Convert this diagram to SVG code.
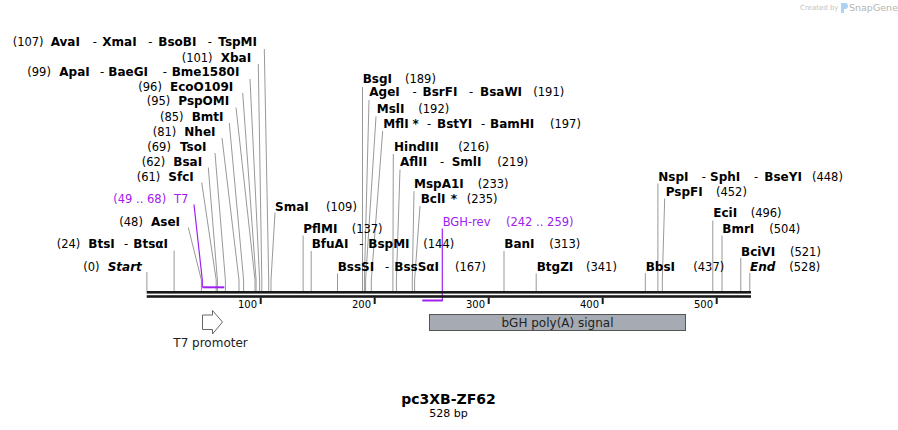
<svg xmlns="http://www.w3.org/2000/svg" width="898" height="430" viewBox="0 0 898 430">
<style>
text{font-family:"DejaVu Sans",Verdana,sans-serif;fill:#000}
.n{font-size:11.5px}
.b{font-size:12px;font-weight:bold}
.bi{font-size:12px;font-weight:bold;font-style:italic}
.p{fill:#a020f0;font-size:11.5px}
.t{font-size:10px;text-anchor:end}
.c{stroke:#999;fill:none;stroke-width:1}
.pc{stroke:#a020f0;fill:none;stroke-width:1.2}
.tick{stroke:#1a1a1a;stroke-width:2}
</style>
<rect width="898" height="430" fill="#fff"/>
<g id="watermark">
<text x="800" y="10" style="font-size:7px;fill:#c4c4c4">Created by</text>
<path d="M841,3 h4 a3,3 0 0 1 0,6 h-1 v4 h-3 z" fill="#a9d4f5"/>
<text x="849" y="11" style="font-size:9.5px;fill:#b5b5b5">SnapGene</text>
</g>
<g id="connectors">
<polyline class="c" points="264.3,49 268.7,280 268.7,291"/>
<polyline class="c" points="258.3,64 261.8,280 261.8,291"/>
<polyline class="c" points="250,79 259.6,280 259.6,291"/>
<polyline class="c" points="242.7,93 256.1,280 256.1,291"/>
<polyline class="c" points="236,107.5 255,280 255,291"/>
<polyline class="c" points="229.3,123 243.6,280 243.6,291"/>
<polyline class="c" points="222,138 239,280 239,291"/>
<polyline class="c" points="215,153 225.4,280 225.4,291"/>
<polyline class="c" points="208.3,167.5 217.4,280 217.4,291"/>
<polyline class="c" points="201.7,182.5 216.2,280 216.2,291"/>
<polyline class="c" points="188.3,227.5 201.4,280 201.4,291"/>
<polyline class="c" points="174.1,250.5 174.1,291"/>
<polyline class="c" points="146.9,272 146.9,291"/>
<polyline class="c" points="275,212.5 271,280 271,291"/>
<polyline class="c" points="362.5,87 362.5,291"/>
<polyline class="c" points="369,100 364.4,280 364.4,291"/>
<polyline class="c" points="376,116.5 365.6,280 365.6,291"/>
<polyline class="c" points="382.7,131 371.3,280 371.3,291"/>
<polyline class="c" points="393.3,154 392.9,280 392.9,291"/>
<polyline class="c" points="400,169.5 396.4,280 396.4,291"/>
<polyline class="c" points="414,191 412.3,280 412.3,291"/>
<polyline class="c" points="420,206 414.6,280 414.6,291"/>
<polyline class="c" points="303.1,235.5 303.1,291"/>
<polyline class="c" points="311.2,251 311.2,291"/>
<polyline class="c" points="337.5,273.5 337.5,291"/>
<polyline class="c" points="504,251 504,291"/>
<polyline class="c" points="536.2,273.5 536.2,291"/>
<polyline class="c" points="645.3,273 645.3,291"/>
<polyline class="c" points="657.9,183.5 657.9,291"/>
<polyline class="c" points="664.7,198.5 662.3,280 662.3,291"/>
<polyline class="c" points="712.8,220.5 712.8,291"/>
<polyline class="c" points="722,235.5 722,291"/>
<polyline class="c" points="740.8,258 740.8,291"/>
<polyline class="c" points="749.8,273 749.8,291"/>
<polyline class="pc" points="194,204.5 202.3,280 202.3,287"/>
<polyline class="pc" points="442.3,228.5 442.3,300.5"/>
</g>
<g id="backbone">
<rect x="146.7" y="291" width="604.3" height="2.6" fill="#1a1a1a"/>
<rect x="146.7" y="295.2" width="604.3" height="2.6" fill="#1a1a1a"/>
<line class="tick" x1="260.7" y1="297.5" x2="260.7" y2="304"/>
<line class="tick" x1="374.7" y1="297.5" x2="374.7" y2="304"/>
<line class="tick" x1="488.7" y1="297.5" x2="488.7" y2="304"/>
<line class="tick" x1="602.7" y1="297.5" x2="602.7" y2="304"/>
<line class="tick" x1="716.7" y1="297.5" x2="716.7" y2="304"/>
<text class="t" x="257" y="307.5">100</text>
<text class="t" x="371" y="307.5">200</text>
<text class="t" x="485" y="307.5">300</text>
<text class="t" x="599" y="307.5">400</text>
<text class="t" x="713" y="307.5">500</text>
</g>
<g id="T7">
<rect x="202.3" y="286.3" width="22" height="2" fill="#a020f0"/>
<text class="p" x="113.3" y="203.3">(49 .. 68)</text>
<text class="p" x="174" y="203.3">T7</text>
</g>
<g id="BGH-rev">
<rect x="422.3" y="299.5" width="20.5" height="2" fill="#a020f0"/>
<text class="p" x="442.7" y="226">BGH-rev</text>
<text class="p" x="506" y="226">(242 .. 259)</text>
</g>
<g id="T7-promoter">
<polygon points="202.5,315 212.5,315 212.5,310.5 222.5,322 212.5,334 212.5,329.5 202.5,329.5" fill="#fff" stroke="#666" stroke-width="1"/>
<text x="173.3" y="346.7" style="font-size:12px;fill:#222">T7 promoter</text>
</g>
<g id="bGH-polyA">
<rect x="429.5" y="314.5" width="256" height="16" fill="#a6abb3" stroke="#555" stroke-width="1"/>
<text x="557.5" y="326.5" style="font-size:12px;fill:#222;text-anchor:middle">bGH poly(A) signal</text>
</g>
<g id="site-AvaI"><text class="n" x="12.7" y="46">(107)</text><text class="b" x="50.7" y="46">AvaI</text><text class="n" x="92.7" y="46">-</text><text class="b" x="102.3" y="46">XmaI</text><text class="n" x="148.3" y="46">-</text><text class="b" x="158.3" y="46">BsoBI</text><text class="n" x="207.7" y="46">-</text><text class="b" x="218.3" y="46">TspMI</text></g>
<g id="site-XbaI"><text class="n" x="181.7" y="61.5">(101)</text><text class="b" x="220.7" y="61.5">XbaI</text></g>
<g id="site-ApaI"><text class="n" x="27.3" y="75.7">(99)</text><text class="b" x="59.3" y="75.7">ApaI</text><text class="n" x="100" y="75.7">-</text><text class="b" x="108.3" y="75.7">BaeGI</text><text class="n" x="162.7" y="75.7">-</text><text class="b" x="171.7" y="75.7">Bme1580I</text></g>
<g id="site-EcoO109I"><text class="n" x="138.3" y="90.5">(96)</text><text class="b" x="170" y="90.5">EcoO109I</text></g>
<g id="site-PspOMI"><text class="n" x="146.7" y="105">(95)</text><text class="b" x="178.3" y="105">PspOMI</text></g>
<g id="site-BmtI"><text class="n" x="160" y="120.5">(85)</text><text class="b" x="191.7" y="120.5">BmtI</text></g>
<g id="site-NheI"><text class="n" x="152.7" y="135.5">(81)</text><text class="b" x="184.3" y="135.5">NheI</text></g>
<g id="site-TsoI"><text class="n" x="147.3" y="150.5">(69)</text><text class="b" x="180" y="150.5">TsoI</text></g>
<g id="site-BsaI"><text class="n" x="141.7" y="165.7">(62)</text><text class="b" x="173.3" y="165.7">BsaI</text></g>
<g id="site-SfcI"><text class="n" x="136.7" y="180.7">(61)</text><text class="b" x="168.3" y="180.7">SfcI</text></g>
<g id="site-AseI"><text class="n" x="119.3" y="225.7">(48)</text><text class="b" x="151" y="225.7">AseI</text></g>
<g id="site-BtsI"><text class="n" x="56.7" y="247.7">(24)</text><text class="b" x="88.3" y="247.7">BtsI</text><text class="n" x="124" y="247.7">-</text><text class="b" x="133.3" y="247.7">BtsαI</text></g>
<g id="site-Start"><text class="n" x="83.3" y="270.7">(0)</text><text class="bi" x="107.7" y="270.7">Start</text></g>
<g id="site-SmaI"><text class="b" x="275" y="210.7">SmaI</text><text class="n" x="326" y="210.7">(109)</text></g>
<g id="site-BsgI"><text class="b" x="362.7" y="83.3">BsgI</text><text class="n" x="405" y="83.3">(189)</text></g>
<g id="site-AgeI"><text class="b" x="369.3" y="96">AgeI</text><text class="n" x="412.5" y="96">-</text><text class="b" x="422.5" y="96">BsrFI</text><text class="n" x="469" y="96">-</text><text class="b" x="480" y="96">BsaWI</text><text class="n" x="533.3" y="96">(191)</text></g>
<g id="site-MslI"><text class="b" x="376.7" y="112.7">MslI</text><text class="n" x="418.3" y="112.7">(192)</text></g>
<g id="site-MflI"><text class="b" x="383.3" y="127.7">MflI</text><text class="b" x="412.5" y="127.7">*</text><text class="n" x="427" y="127.7">-</text><text class="b" x="437" y="127.7">BstYI</text><text class="n" x="481" y="127.7">-</text><text class="b" x="490" y="127.7">BamHI</text><text class="n" x="550" y="127.7">(197)</text></g>
<g id="site-HindIII"><text class="b" x="394" y="150.7">HindIII</text><text class="n" x="458.3" y="150.7">(216)</text></g>
<g id="site-AflII"><text class="b" x="400" y="166">AflII</text><text class="n" x="440" y="166">-</text><text class="b" x="451.7" y="166">SmlI</text><text class="n" x="497.3" y="166">(219)</text></g>
<g id="site-MspA1I"><text class="b" x="414" y="188.3">MspA1I</text><text class="n" x="477.7" y="188.3">(233)</text></g>
<g id="site-BclI"><text class="b" x="420.7" y="202.7">BclI</text><text class="b" x="450.7" y="202.7">*</text><text class="n" x="466.7" y="202.7">(235)</text></g>
<g id="site-PflMI"><text class="b" x="303.3" y="232.7">PflMI</text><text class="n" x="351.7" y="232.7">(137)</text></g>
<g id="site-BfuAI"><text class="b" x="311.7" y="248.3">BfuAI</text><text class="n" x="359.3" y="248.3">-</text><text class="b" x="368.3" y="248.3">BspMI</text><text class="n" x="423.3" y="248.3">(144)</text></g>
<g id="site-BanI"><text class="b" x="504.3" y="248.3">BanI</text><text class="n" x="549.3" y="248.3">(313)</text></g>
<g id="site-BssSI"><text class="b" x="337.7" y="270.7">BssSI</text><text class="n" x="385" y="270.7">-</text><text class="b" x="394.3" y="270.7">BssSαI</text><text class="n" x="455" y="270.7">(167)</text></g>
<g id="site-BtgZI"><text class="b" x="536.7" y="270.7">BtgZI</text><text class="n" x="586" y="270.7">(341)</text></g>
<g id="site-BbsI"><text class="b" x="645.7" y="270.7">BbsI</text><text class="n" x="693.3" y="270.7">(437)</text></g>
<g id="site-NspI"><text class="b" x="658.3" y="180.7">NspI</text><text class="n" x="701.7" y="180.7">-</text><text class="b" x="710" y="180.7">SphI</text><text class="n" x="754" y="180.7">-</text><text class="b" x="764.3" y="180.7">BseYI</text><text class="n" x="812" y="180.7">(448)</text></g>
<g id="site-PspFI"><text class="b" x="665.7" y="195.7">PspFI</text><text class="n" x="716" y="195.7">(452)</text></g>
<g id="site-EciI"><text class="b" x="713.3" y="217.3">EciI</text><text class="n" x="750.7" y="217.3">(496)</text></g>
<g id="site-BmrI"><text class="b" x="722.3" y="232.7">BmrI</text><text class="n" x="769.3" y="232.7">(504)</text></g>
<g id="site-BciVI"><text class="b" x="741" y="255.7">BciVI</text><text class="n" x="790" y="255.7">(521)</text></g>
<g id="site-End"><text class="bi" x="750" y="270.7">End</text><text class="n" x="789.3" y="270.7">(528)</text></g>
<g id="title">
<text x="448.5" y="404" style="font-size:14px;font-weight:bold;text-anchor:middle">pc3XB-ZF62</text>
<text x="448.5" y="417" style="font-size:11px;text-anchor:middle">528 bp</text>
</g>
</svg>
